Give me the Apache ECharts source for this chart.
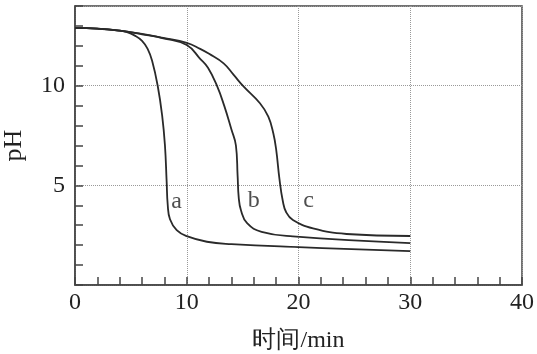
<!DOCTYPE html>
<html>
<head>
<meta charset="utf-8">
<script src="https://cdn.jsdelivr.net/npm/echarts@6/dist/echarts.min.js"></script>
<style>html,body{margin:0;padding:0;background:#fff}#c{width:537px;height:354px}</style>
</head>
<body>
<div id="c"></div>
<script>
var seriesA = [[0,12.9],[2,12.86],[4,12.76],[4.6,12.7],[5.4,12.5],[6,12.25],[6.5,11.85],[6.9,11.25],[7.4,10.0],[7.8,8.5],[8.05,7.0],[8.2,5.2],[8.3,4.0],[8.5,3.3],[9.1,2.75],[10,2.45],[11.8,2.17],[14,2.05],[20,1.9],[30,1.7]];
var seriesB = [[0,12.9],[2,12.86],[4,12.76],[6,12.58],[7.9,12.38],[10,12.04],[11.2,11.35],[11.9,10.9],[12.7,10.0],[13.35,9.0],[14.0,7.8],[14.4,7.0],[14.55,5.5],[14.65,4.4],[14.85,3.75],[15.4,3.1],[16.7,2.67],[19.5,2.44],[30,2.1]];
var seriesC = [[0,12.9],[2,12.86],[4,12.76],[6,12.6],[7.9,12.4],[10,12.15],[11.2,11.85],[12,11.6],[13.3,11.12],[14.2,10.54],[15.1,9.95],[16.55,9.12],[17.3,8.45],[17.75,7.6],[18.0,6.8],[18.3,5.3],[18.6,4.2],[18.9,3.65],[19.5,3.26],[21.3,2.84],[24.3,2.56],[30,2.46]];
var curveLabels = [[9.1,4.2,'a'],[16.0,4.25,'b'],[20.9,4.25,'c']];
var xName = '时间/min';
var yName = 'pH';

var font = '"Liberation Serif", "Times New Roman", serif';
var lineColor = '#2a2a2a';
function lineSeries(d){
  return {type:'line', data:d, showSymbol:false, smooth:0.45,
    lineStyle:{color:lineColor,width:1.8}, silent:true};
}
var chart = echarts.init(document.getElementById('c'));
chart.setOption({
  animation:false,
  grid:{left:75,right:15,top:6,bottom:69,containLabel:false,outerBoundsMode:'none',
    show:true,borderColor:'#444',borderWidth:1.5,backgroundColor:'transparent'},
  xAxis:{type:'value',min:0,max:40,interval:10,
    name:xName,nameLocation:'middle',nameGap:56,nameMoveOverlap:false,
    nameTextStyle:{fontFamily:font,fontSize:24,color:'#222',verticalAlign:'middle'},
    axisLine:{lineStyle:{color:'#444',width:1.5}},
    axisTick:{inside:true,length:8,lineStyle:{color:'#444',width:1.5}},
    minorTick:{show:true,splitNumber:5,length:8,lineStyle:{color:'#444',width:1.5}},
    axisLabel:{fontFamily:font,fontSize:24,color:'#222',margin:6},
    splitLine:{show:true,lineStyle:{type:'dotted',color:'#999',width:1}}
  },
  yAxis:{type:'value',min:0,max:14,interval:5,
    name:yName,nameLocation:'middle',nameGap:61,nameMoveOverlap:false,
    nameTextStyle:{fontFamily:font,fontSize:26,color:'#222',verticalAlign:'middle'},
    axisLine:{lineStyle:{color:'#444',width:1.5}},
    axisTick:{inside:true,length:8,lineStyle:{color:'#444',width:1.5}},
    minorTick:{show:true,splitNumber:5,length:8,lineStyle:{color:'#444',width:1.5}},
    axisLabel:{fontFamily:font,fontSize:24,color:'#222',margin:10,showMaxLabel:false,
      formatter:function(v){return (v===0||v===14)?'':String(v);}},
    splitLine:{show:true,lineStyle:{type:'dotted',color:'#999',width:1}}
  },
  series:[lineSeries(seriesA),lineSeries(seriesB),lineSeries(seriesC),
    {type:'scatter',symbolSize:0,silent:true,data:curveLabels,
     label:{show:true,position:'inside',formatter:function(p){return p.data[2];},
       fontFamily:font,fontSize:24,color:'#222'}}]
});
</script>
</body>
</html>
